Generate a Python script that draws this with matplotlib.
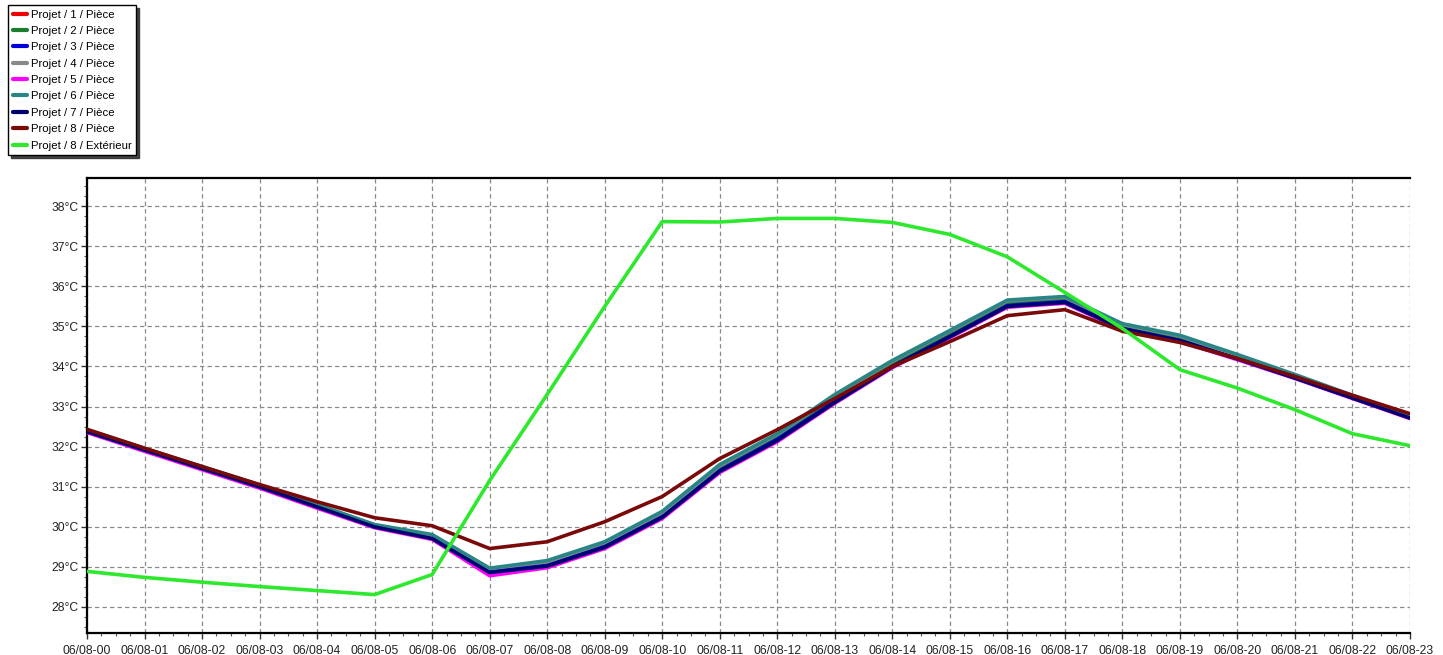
import matplotlib
matplotlib.use("Agg")
import matplotlib.pyplot as plt
from matplotlib.ticker import MultipleLocator, FixedLocator

plt.rcParams['font.family'] = ['Liberation Sans', 'DejaVu Sans']

hours = list(range(24))
tick_labels = ["06/08-%02d" % h for h in hours]
y_ticks = [28, 29, 30, 31, 32, 33, 34, 35, 36, 37, 38]

piece_1 = [32.39, 31.93, 31.47, 31.01, 30.51, 30.01, 29.74, 28.90, 29.05, 29.52, 30.27, 31.42,
           32.20, 33.15, 34.03, 34.78, 35.55, 35.65, 34.98, 34.68, 34.22, 33.74, 33.24, 32.74]
piece_2 = [32.40, 31.94, 31.48, 31.02, 30.52, 30.02, 29.75, 28.92, 29.08, 29.55, 30.30, 31.45,
           32.23, 33.18, 34.06, 34.82, 35.58, 35.68, 35.00, 34.70, 34.24, 33.75, 33.25, 32.75]
piece_3 = [32.38, 31.92, 31.46, 31.00, 30.50, 30.00, 29.72, 28.88, 29.03, 29.50, 30.25, 31.40,
           32.18, 33.12, 34.00, 34.75, 35.52, 35.62, 34.95, 34.65, 34.20, 33.72, 33.22, 32.72]
piece_4 = [32.41, 31.95, 31.49, 31.03, 30.54, 30.04, 29.78, 28.95, 29.12, 29.60, 30.35, 31.52,
           32.30, 33.27, 34.13, 34.88, 35.64, 35.73, 35.05, 34.76, 34.28, 33.78, 33.27, 32.77]
piece_5 = [32.35, 31.88, 31.42, 30.96, 30.46, 29.97, 29.68, 28.77, 28.97, 29.45, 30.20, 31.35,
           32.12, 33.08, 33.97, 34.72, 35.48, 35.58, 34.92, 34.62, 34.17, 33.70, 33.20, 32.70]
piece_6 = [32.42, 31.95, 31.50, 31.04, 30.55, 30.05, 29.80, 28.96, 29.15, 29.62, 30.38, 31.55,
           32.32, 33.30, 34.15, 34.90, 35.66, 35.75, 35.07, 34.78, 34.30, 33.80, 33.28, 32.78]
piece_7 = [32.37, 31.91, 31.45, 30.99, 30.49, 29.99, 29.70, 28.85, 29.01, 29.48, 30.23, 31.38,
           32.15, 33.10, 33.99, 34.74, 35.50, 35.60, 34.94, 34.64, 34.19, 33.71, 33.21, 32.71]
piece_8 = [32.43, 31.96, 31.50, 31.05, 30.62, 30.22, 30.02, 29.45, 29.62, 30.12, 30.75, 31.70,
           32.42, 33.20, 34.00, 34.62, 35.27, 35.42, 34.88, 34.60, 34.20, 33.75, 33.28, 32.82]
exterieur_8 = [28.88, 28.73, 28.61, 28.50, 28.40, 28.30, 28.80, 31.15, 33.30, 35.50, 37.62, 37.61,
               37.70, 37.70, 37.60, 37.30, 36.74, 35.85, 34.95, 33.92, 33.46, 32.92, 32.32, 32.02]

series = [
    ("Projet / 1 / Pièce", piece_1, "#ee0000"),
    ("Projet / 2 / Pièce", piece_2, "#1a7f2a"),
    ("Projet / 3 / Pièce", piece_3, "#0000dd"),
    ("Projet / 4 / Pièce", piece_4, "#888888"),
    ("Projet / 5 / Pièce", piece_5, "#ff00ff"),
    ("Projet / 6 / Pièce", piece_6, "#2a8585"),
    ("Projet / 7 / Pièce", piece_7, "#000070"),
    ("Projet / 8 / Pièce", piece_8, "#7a0a0a"),
    ("Projet / 8 / Extérieur", exterieur_8, "#2ee82e"),
]

W, H = 1443, 655
fig = plt.figure(figsize=(W / 100, H / 100), dpi=100)
ax = fig.add_axes([87 / W, 1 - 633 / H, (1410 - 87) / W, (633 - 178) / H])

lines = []
for label, values, color in series:
    ln, = ax.plot(hours, values, color=color, lw=2.6, label=label,
                  solid_joinstyle="round", solid_capstyle="round", zorder=3)
    lines.append(ln)

ax.set_xlim(0, 23)
ax.set_ylim(27.34, 38.71)

ax.xaxis.set_major_locator(FixedLocator(hours))
ax.set_xticklabels(tick_labels)
ax.xaxis.set_minor_locator(MultipleLocator(0.25))
ax.yaxis.set_major_locator(FixedLocator(y_ticks))
ax.set_yticklabels(["%d°C" % v for v in y_ticks])
ax.yaxis.set_minor_locator(MultipleLocator(0.25))

ax.tick_params(axis="both", which="major", direction="out", length=4, width=1,
               color="#333333", labelsize=8.7, labelcolor="#222222")
ax.tick_params(axis="x", which="major", pad=5)
ax.tick_params(axis="y", which="major", pad=2)
ax.tick_params(axis="both", which="minor", direction="out", length=2.5, width=0.8,
               color="#555555")

ax.grid(True, which="major", color="#8a8a8a", linestyle=(0, (3.5, 2.5)), linewidth=0.9)
ax.set_axisbelow(True)

for side in ("left", "bottom", "top"):
    ax.spines[side].set_color("black")
    ax.spines[side].set_linewidth(1.6)
ax.spines["right"].set_visible(False)

leg = fig.legend(handles=lines, loc="upper left",
                 bbox_to_anchor=(8 / W, 1 - 5 / H), bbox_transform=fig.transFigure,
                 fontsize=8.2, frameon=True, fancybox=False,
                 shadow={"color": "#303030", "alpha": 0.9},
                 handlelength=1.3, handletextpad=0.3, labelspacing=0.56,
                 borderpad=0.4, borderaxespad=0.0)
leg.get_frame().set_edgecolor("black")
leg.get_frame().set_linewidth(1.0)
for lh in leg.get_lines():
    lh.set_linewidth(3)

fig.savefig("out.png", dpi=100, facecolor="white")
